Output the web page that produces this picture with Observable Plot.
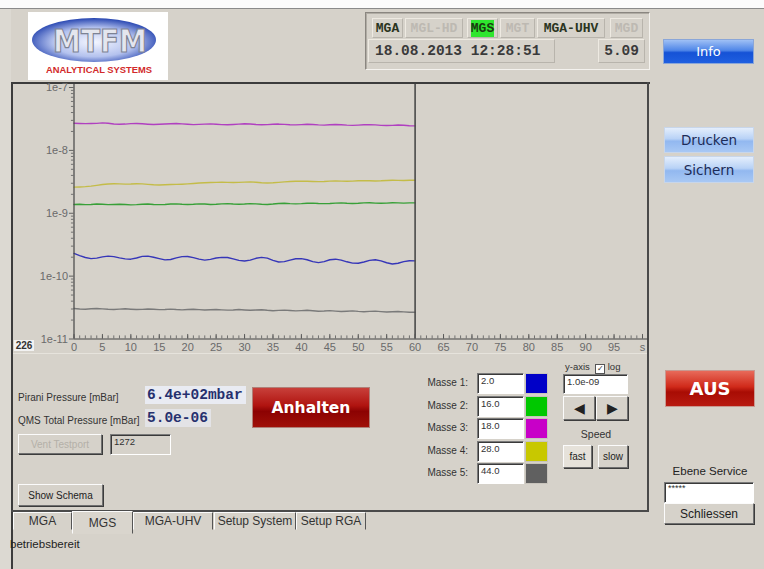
<!DOCTYPE html>
<html><head><meta charset="utf-8">
<script src="https://cdn.jsdelivr.net/npm/d3@7"></script>
<script src="https://cdn.jsdelivr.net/npm/@observablehq/plot@0.6"></script>
<style>
body{margin:0;background:#d6d2ca;font-family:Arial,"Liberation Sans",sans-serif;}
#app{position:relative;width:764px;height:569px;overflow:hidden;background:#d6d2ca;}
.a{position:absolute;box-sizing:border-box;}
.btn{border:1px solid;border-color:#fbfbfb #707070 #707070 #fbfbfb;box-shadow:1px 1px 0 #3c3c3c;background:#d6d2ca;display:flex;align-items:center;justify-content:center;font-size:11px;color:#222;}
.sunk{border:1px solid;border-color:#7a7a7a #fff #fff #7a7a7a;box-shadow:inset 1px 1px 0 #3a3a3a;background:#fff;font-size:10px;color:#333;padding:1px 3px;}
.lbl{font-size:10px;color:#333;white-space:nowrap;}
.mono{font-family:"Liberation Mono","DejaVu Sans Mono",monospace;font-weight:bold;}
.st{font-family:"Liberation Mono","DejaVu Sans Mono",monospace;font-weight:bold;font-size:13px;display:flex;align-items:center;justify-content:center;border:1px solid;border-color:#eeeae2 #b8b4ac #b8b4ac #eeeae2;}
.tab{border:1px solid;border-color:#fbfbfb #555 transparent #fbfbfb;font-size:12px;color:#333;display:flex;align-items:center;justify-content:center;}
.blue{background:linear-gradient(#9fc0f5,#4f86e8 45%,#1552d6 55%,#1f5fe0);border:1px solid #8aa6d8;color:#fff;font-family:"DejaVu Sans",sans-serif;font-size:13px;display:flex;align-items:center;justify-content:center;}
.lblue{background:linear-gradient(#e4eefc,#b8d2f6 45%,#92b8f0 55%,#a8c8f4);border:1px solid #c8d6ea;color:#1c2c58;font-family:"DejaVu Sans",sans-serif;font-size:13.5px;display:flex;align-items:center;justify-content:center;}
.red{background:linear-gradient(#e86a5a,#d02a1a 45%,#a80c04 60%,#b81a10);border:1px solid #c89890;color:#fff;font-family:"DejaVu Sans",sans-serif;font-weight:bold;display:flex;align-items:center;justify-content:center;}
</style></head>
<body>
<div id="app">
  <!-- top strip and frame lines -->
  <div class="a" style="left:0;top:0;width:764px;height:8px;background:#fbfbfb"></div>
  <div class="a" style="left:0;top:8px;width:764px;height:1px;background:#8a8a8a"></div>
  <div class="a" style="left:0;top:9px;width:11px;height:560px;background:#dcd9d2"></div>

  <!-- logo -->
  <div class="a" style="left:28px;top:12px;width:140px;height:68px;background:#fff">
    <svg width="140" height="68">
      <defs>
        <radialGradient id="g1" cx="50%" cy="55%" r="55%">
          <stop offset="0" stop-color="#f4f6ff"/>
          <stop offset="0.6" stop-color="#b4c2ee"/>
          <stop offset="1" stop-color="#2544b0"/>
        </radialGradient>
      </defs>
      <ellipse cx="66" cy="28" rx="62" ry="22" fill="url(#g1)"/>
      <text x="72" y="40" text-anchor="middle" font-family="DejaVu Sans" font-weight="bold" font-size="32" fill="#e4e6ee" stroke="#7c8294" stroke-width="1.2" textLength="94" lengthAdjust="spacingAndGlyphs">MTFM</text>
      <text x="71" y="61" text-anchor="middle" font-family="Arial" font-weight="bold" font-size="8.5" fill="#d22a2a" textLength="106" lengthAdjust="spacingAndGlyphs">ANALYTICAL SYSTEMS</text>
    </svg>
  </div>

  <!-- status box -->
  <div class="a" style="left:365px;top:12px;width:285px;height:58px;border:1px solid;border-color:#8a8680 #f4f2ee #f4f2ee #8a8680;box-shadow:inset 1px 1px 0 #b0aca4"></div>
  <div class="a st" style="left:372px;top:18px;width:31px;height:20px;color:#2a3420">MGA</div>
  <div class="a st" style="left:405px;top:18px;width:58px;height:20px;color:#bdb9b2">MGL-HD</div>
  <div class="a st" style="left:467px;top:18px;width:31px;height:20px;color:#1a3a10"><span style="background:#2ee62e;padding:1px 0">MGS</span></div>
  <div class="a st" style="left:500px;top:18px;width:35px;height:20px;color:#bdb9b2">MGT</div>
  <div class="a st" style="left:537px;top:18px;width:68px;height:20px;color:#2a3420">MGA-UHV</div>
  <div class="a st" style="left:610px;top:18px;width:33px;height:20px;color:#bdb9b2">MGD</div>
  <div class="a st" style="left:368px;top:39px;width:187px;height:24px;justify-content:flex-start;padding-left:6px;font-size:14.5px;color:#3a3a3a">18.08.2013 12:28:51</div>
  <div class="a st" style="left:598px;top:39px;width:47px;height:24px;justify-content:flex-end;padding-right:5px;font-size:14.5px;color:#3a3a3a">5.09</div>

  <!-- right buttons -->
  <div class="a blue" style="left:663px;top:39px;width:91px;height:25px">Info</div>
  <div class="a lblue" style="left:664px;top:127px;width:90px;height:26px">Drucken</div>
  <div class="a lblue" style="left:664px;top:156px;width:90px;height:27px">Sichern</div>
  <div class="a red" style="left:665px;top:370px;width:90px;height:37px;font-size:18px">AUS</div>
  <div class="a lbl" style="left:664px;top:465px;width:92px;text-align:center;font-size:11.5px;color:#222">Ebene Service</div>
  <div class="a sunk" style="left:664px;top:482px;width:90px;height:21px;font-size:9px;line-height:9px">*****</div>
  <div class="a btn" style="left:664px;top:503px;width:90px;height:21px;font-size:12px">Schliessen</div>

  <!-- chart panel frame -->
  <div class="a" style="left:11px;top:82px;width:639px;height:2px;background:#3c3c3c"></div>
  <div class="a" style="left:11px;top:82px;width:2px;height:487px;background:#3c3c3c"></div>
  <div class="a" style="left:647px;top:82px;width:2px;height:430px;background:#4a4a4a"></div>
  <div class="a" style="left:11px;top:510px;width:638px;height:2px;background:#4a4a4a"></div>
  <div class="a" style="left:13px;top:353px;width:634px;height:1px;background:#e6e3dc"></div>

  <div id="chart" class="a" style="left:12px;top:83px"></div>
  <div class="a" style="left:14px;top:340px;width:20px;height:11px;background:#f2f2f2;font-size:10px;font-weight:bold;color:#333;line-height:11px;text-align:center">226</div>

  <!-- pressures -->
  <div class="a lbl" style="left:18px;top:392px">Pirani Pressure [mBar]</div>
  <div class="a lbl" style="left:18px;top:415px">QMS Total Pressure [mBar]</div>
  <div class="a mono" style="left:145px;top:386px;width:101px;height:18px;background:#e9ebf2;color:#26306e;font-size:14.5px;line-height:18px;padding-left:2px">6.4e+02mbar</div>
  <div class="a mono" style="left:145px;top:409px;width:66px;height:18px;background:#e3e3e6;color:#26306e;font-size:14.5px;line-height:18px;padding-left:2px">5.0e-06</div>
  <div class="a red" style="left:252px;top:387px;width:118px;height:41px;font-size:15.5px;background:linear-gradient(#c8403a,#b01410 45%,#8c0202 60%,#a01008);border-color:#b08078">Anhalten</div>
  <div class="a btn" style="left:18px;top:434px;width:84px;height:20px;color:#b4b0a8;font-size:10px">Vent Testport</div>
  <div class="a sunk" style="left:110px;top:434px;width:61px;height:21px;background:#d6d2ca;font-size:9.5px">1272</div>
  <div class="a btn" style="left:18px;top:484px;width:85px;height:22px;font-size:10px">Show Schema</div>

  <!-- tabs -->
  <div class="a tab" style="left:13px;top:512px;width:59px;height:18px">MGA</div>
  <div class="a tab" style="left:72px;top:511px;width:61px;height:23px;border-bottom-color:transparent;background:#d9d5cd">MGS</div>
  <div class="a tab" style="left:133px;top:512px;width:80px;height:18px">MGA-UHV</div>
  <div class="a tab" style="left:214px;top:512px;width:82px;height:18px">Setup System</div>
  <div class="a tab" style="left:296px;top:512px;width:70px;height:18px">Setup RGA</div>
  <div class="a lbl" style="left:10px;top:538px;font-size:11.5px;color:#222">betriebsbereit</div>

  <!-- masses -->
  <div id="masses"></div>

  <!-- y-axis controls -->
  <div class="a lbl" style="left:565px;top:361px;font-size:9.5px">y-axis&nbsp;&nbsp;<span style="display:inline-block;width:8px;height:8px;border:1px solid #555;background:#fff;font-size:8px;line-height:8px;text-align:center;vertical-align:-1px">✓</span> log</div>
  <div class="a sunk" style="left:563px;top:374px;width:65px;height:20px;font-size:9.5px">1.0e-09</div>
  <div class="a btn" style="left:563px;top:396px;width:32px;height:24px;font-size:14px">◀</div>
  <div class="a btn" style="left:596px;top:396px;width:32px;height:24px;font-size:14px">▶</div>
  <div class="a lbl" style="left:563px;top:428px;width:66px;text-align:center;font-size:10.5px">Speed</div>
  <div class="a btn" style="left:563px;top:445px;width:29px;height:23px;background:#e6e2da;font-size:10px">fast</div>
  <div class="a btn" style="left:598px;top:445px;width:30px;height:23px;font-size:10px">slow</div>
</div>

<script>
// ---- data ----
const seconds = [0,1,2,3,4,5,6,7,8,9,10,11,12,13,14,15,16,17,18,19,20,21,22,23,24,25,26,27,28,29,30,31,32,33,34,35,36,37,38,39,40,41,42,43,44,45,46,47,48,49,50,51,52,53,54,55,56,57,58,59,60];
const massNames = ["Masse 1:", "Masse 2:", "Masse 3:", "Masse 4:", "Masse 5:"];
const massValues = ["2.0", "16.0", "18.0", "28.0", "44.0"];
const massColors = ["#0000c8", "#00c800", "#c800c8", "#c8c800", "#606060"];
const lineColors = ["#3636b8", "#38a038", "#b040c0", "#c4bc48", "#7a7a7a"];
// mass 2.0 (x1e-10)
const m1 = [2.30,2.12,1.98,1.90,1.93,2.02,2.08,2.04,1.95,1.88,1.86,1.94,2.06,2.08,2.00,1.90,1.81,1.84,1.95,2.04,2.05,1.97,1.86,1.80,1.85,1.94,1.99,1.98,1.88,1.78,1.74,1.80,1.92,1.99,1.93,1.78,1.68,1.70,1.80,1.89,1.90,1.82,1.70,1.64,1.70,1.82,1.86,1.80,1.69,1.61,1.60,1.68,1.78,1.82,1.75,1.63,1.56,1.60,1.70,1.76,1.75];
// mass 16.0 (x1e-9)
const m2 = [1.38,1.39,1.37,1.38,1.40,1.39,1.37,1.38,1.39,1.38,1.36,1.37,1.39,1.40,1.38,1.37,1.38,1.40,1.41,1.39,1.38,1.39,1.41,1.40,1.38,1.39,1.41,1.42,1.40,1.39,1.40,1.42,1.41,1.39,1.38,1.40,1.43,1.44,1.42,1.41,1.42,1.44,1.45,1.43,1.42,1.43,1.45,1.46,1.44,1.43,1.44,1.46,1.47,1.45,1.44,1.45,1.47,1.46,1.45,1.46,1.46];
// mass 18.0 (x1e-8)
const m3 = [2.70,2.68,2.66,2.67,2.69,2.74,2.70,2.63,2.60,2.62,2.66,2.68,2.65,2.61,2.58,2.60,2.63,2.65,2.67,2.64,2.60,2.57,2.59,2.62,2.64,2.61,2.57,2.55,2.58,2.62,2.65,2.63,2.58,2.55,2.57,2.60,2.62,2.59,2.55,2.54,2.57,2.60,2.58,2.54,2.52,2.55,2.58,2.56,2.52,2.50,2.52,2.55,2.57,2.54,2.50,2.48,2.50,2.53,2.51,2.47,2.45];
// mass 28.0 (x1e-9)
const m4 = [2.60,2.62,2.65,2.70,2.78,2.86,2.92,2.94,2.93,2.91,2.92,2.95,2.93,2.88,2.84,2.82,2.84,2.86,2.88,2.90,2.93,2.97,3.02,3.06,3.08,3.10,3.12,3.10,3.08,3.10,3.13,3.15,3.12,3.06,3.02,3.05,3.10,3.16,3.20,3.22,3.24,3.22,3.20,3.18,3.20,3.24,3.26,3.24,3.22,3.24,3.28,3.30,3.28,3.26,3.28,3.32,3.35,3.33,3.32,3.34,3.35];
// mass 44.0 (x1e-11)
const m5 = [3.05,3.00,2.98,3.02,3.06,3.01,2.97,2.95,2.99,3.03,2.98,2.94,2.96,3.00,2.97,2.93,2.95,2.99,2.94,2.91,2.94,2.97,2.93,2.90,2.92,2.95,2.91,2.88,2.90,2.94,2.90,2.86,2.89,2.92,2.86,2.82,2.85,2.88,2.84,2.80,2.83,2.86,2.81,2.77,2.79,2.83,2.78,2.74,2.77,2.80,2.75,2.72,2.75,2.78,2.73,2.69,2.71,2.74,2.70,2.67,2.66];
const units = [1e-10, 1e-9, 1e-8, 1e-9, 1e-11];
const xMajor = [0,5,10,15,20,25,30,35,40,45,50,55,60,65,70,75,80,85,90,95,100];
const xLabels = ["0","5","10","15","20","25","30","35","40","45","50","55","60","65","70","75","80","85","90","95","s"];
const yMajor = [1e-11, 1e-10, 1e-9, 1e-8, 1e-7];
const yLabels = ["1e-11", "1e-10", "1e-9", "1e-8", "1e-7"];
const cursorTime = 60;

// ---- derived tables ----
const series = [m1, m2, m3, m4, m5];
const rows = series.map((s, k) => s.map((v, i) => ({t: seconds[i], v: v * units[k], k})));
const xMinor = d3.range(0, 101, 1);
const yMinor = yMajor.slice(0, -1).flatMap(p => [2,3,4,5,6,7,8,9].map(m => m * p));

const axisColor = "#454545";
const chart = Plot.plot({
  width: 637, height: 272,
  marginLeft: 61.5, marginRight: 7, marginTop: 4, marginBottom: 16.5,
  style: {background: "transparent", fontFamily: "Arial, 'Liberation Sans', sans-serif", fontSize: "11px", color: "#6a6a6a", overflow: "visible"},
  x: {domain: [0, 100], ticks: xMajor, tickSize: 0, tickPadding: 4, tickFormat: d => xLabels[xMajor.indexOf(d)], label: null},
  y: {type: "log", domain: [1e-11, 1e-7], ticks: yMajor, tickSize: 0, tickPadding: 6, tickFormat: d => yLabels[yMajor.indexOf(d)], label: null},
  marks: [
    ...rows.map((r, k) => Plot.line(r, {x: "t", y: "v", stroke: lineColors[k], strokeWidth: 1.4, curve: "linear"})),
    Plot.ruleX([cursorTime], {y1: 1e-11, y2: 1.12e-7, stroke: "#4a4a4a", strokeWidth: 1.6}),
    Plot.ruleX([0], {y1: 1e-11, y2: 1.12e-7, stroke: axisColor, strokeWidth: 1.2}),
    Plot.ruleY([1e-11], {x1: 0, x2: 101, stroke: axisColor, strokeWidth: 1.2}),
    Plot.ruleX(xMinor, {x: d => d, y1: 1e-11, y2: 1.12e-11, stroke: "#666", strokeWidth: 0.9}),
    Plot.ruleX(xMajor, {x: d => d, y1: 1e-11, y2: 1.18e-11, stroke: "#555", strokeWidth: 0.9}),
    Plot.ruleY(yMinor, {y: d => d, x1: -0.45, x2: 0, stroke: "#666", strokeWidth: 0.9}),
    Plot.ruleY(yMajor, {y: d => d, x1: -0.8, x2: 0, stroke: "#555", strokeWidth: 0.9})
  ]
});
document.getElementById("chart").appendChild(chart);

// ---- mass legend / inputs ----
const mc = document.getElementById("masses");
const rowTops = [373, 396, 418, 441, 463];
massNames.forEach((n, i) => {
  const top = rowTops[i];
  mc.insertAdjacentHTML("beforeend",
    `<div class="a lbl" style="left:400px;top:${top+4}px;width:68px;text-align:right">${n}</div>` +
    `<div class="a sunk" style="left:477px;top:${top}px;width:47px;height:21px;font-size:9.5px">${massValues[i]}</div>` +
    `<div class="a" style="left:525px;top:${top}px;width:23px;height:21px;background:${massColors[i]};border:1px solid #c8c4bc"></div>`);
});
</script>
</body></html>
